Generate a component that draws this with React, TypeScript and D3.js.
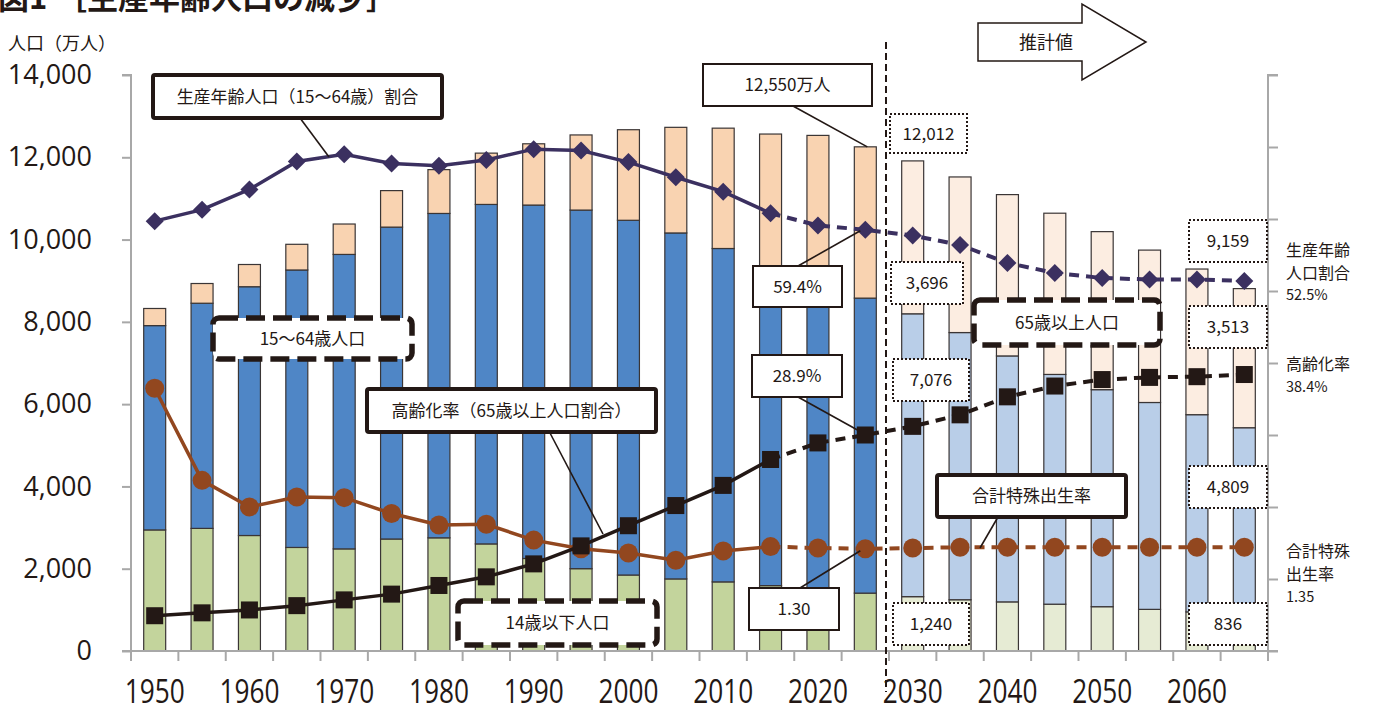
import * as d3 from "d3";
import { useEffect, useRef } from "react";

// 年次（5年ごと、2030年以降は推計値）
const years = [
  "1950", "1955", "1960", "1965", "1970", "1975", "1980", "1985",
  "1990", "1995", "2000", "2005", "2010", "2015", "2020", "2025",
  "2030", "2035", "2040", "2045", "2050", "2055", "2060", "2065",
];
// 人口（万人）
const under15 = [
  2943, 2980, 2807, 2517, 2482, 2722, 2751, 2603, 2249, 2001, 1847, 1752,
  1680, 1589, 1507, 1407, 1321, 1246, 1194, 1138, 1077, 1012, 951, 898,
];
const working = [
  4966, 5473, 6047, 6744, 7157, 7581, 7884, 8251, 8590, 8716, 8622, 8409,
  8103, 7629, 7406, 7170, 6875, 6494, 5978, 5584, 5275, 5028, 4793, 4529,
];
const elderly = [
  416, 479, 540, 624, 739, 887, 1065, 1247, 1489, 1826, 2201, 2567,
  2925, 3347, 3619, 3677, 3716, 3782, 3921, 3919, 3841, 3704, 3540, 3381,
];
// 割合（%）と合計特殊出生率
const workingRatio = [
  59.7, 61.3, 64.1, 68.0, 69.0, 67.7, 67.4, 68.2, 69.7, 69.5, 67.9, 65.8,
  63.8, 60.8, 59.1, 58.5, 57.7, 56.4, 53.9, 52.5, 51.8, 51.6, 51.6, 51.4,
];
const agingRate = [
  4.9, 5.3, 5.7, 6.3, 7.1, 7.9, 9.1, 10.3, 12.1, 14.6, 17.4, 20.2,
  23.0, 26.6, 28.9, 30.0, 31.2, 32.8, 35.3, 36.8, 37.7, 38.0, 38.1, 38.4,
];
const fertility = [
  3.65, 2.37, 2.0, 2.14, 2.13, 1.91, 1.75, 1.76, 1.54, 1.42, 1.36, 1.26,
  1.39, 1.45, 1.43, 1.42, 1.43, 1.44, 1.44, 1.44, 1.44, 1.44, 1.44, 1.44,
];
const leftTicks = [0, 2000, 4000, 6000, 8000, 10000, 12000, 14000];
const rightTicks = [0, 10, 20, 30, 40, 50, 60, 70, 80];
const xLabels = ["1950", "1960", "1970", "1980", "1990", "2000", "2010", "2020", "2030", "2040", "2050", "2060"];

const dashFrom = 13; // 2015以降は破線
const projFrom = 16; // 2030以降は推計

const JP = "'Noto Sans CJK JP', 'Noto Sans', sans-serif";

export default function App() {
  const ref = useRef<SVGSVGElement>(null);

  useEffect(() => {
    const svg = d3.select(ref.current);
    svg.selectAll("*").remove();

    const left = 131, right = 1268, top = 75, bottom = 651;

    const x = d3.scaleBand().domain(years).range([left, right]).paddingInner(0.536).paddingOuter(0.268);
    const bw = x.bandwidth();
    const cx = (i: number) => (x(years[i]) as number) + bw / 2;
    const y = d3.scaleLinear().domain([0, 14000]).range([bottom, top]);
    const yR = d3.scaleLinear().domain([0, 80]).range([bottom, top]);
    const yT = d3.scaleLinear().domain([0, 8]).range([bottom, top]);

    svg.append("rect").attr("width", 1377).attr("height", 709).attr("fill", "#fff");

    // title (cut off at top)
    svg.append("text").attr("x", -2).attr("y", 9).attr("font-family", JP).attr("font-weight", 700)
      .attr("font-size", 31).attr("fill", "#231815").text("図1");
    svg.append("text").attr("x", 56).attr("y", 9).attr("font-family", JP).attr("font-weight", 700)
      .attr("font-size", 31).attr("fill", "#231815").text("［生産年齢人口の減少］");

    svg.append("text").attr("x", 8).attr("y", 50).attr("font-family", JP).attr("font-size", 18)
      .attr("fill", "#231815").text("人口（万人）");

    // stacked bars
    const rows = years.map((yr, i) => ({ year: yr, under15: under15[i], working: working[i], elderly: elderly[i] }));
    const keys = ["under15", "working", "elderly"];
    const colors: Record<string, string[]> = {
      under15: ["#C3D49C", "#E6EBD4"],
      working: ["#4F86C6", "#B9CEE8"],
      elderly: ["#F9D3B1", "#FCEDE1"],
    };
    const stacked = d3.stack<any>().keys(keys)(rows);
    stacked.forEach((s) => {
      svg.append("g").selectAll("rect").data(s).enter().append("rect")
        .attr("x", (d: any) => x(d.data.year) as number)
        .attr("y", (d: any) => y(d[1]))
        .attr("width", bw)
        .attr("height", (d: any) => y(d[0]) - y(d[1]))
        .attr("fill", (d: any, i: number) => colors[s.key][i >= projFrom ? 1 : 0])
        .attr("stroke", "#3a3535")
        .attr("stroke-width", 1.2);
    });

    // axes
    const axisColor = "#a8a8a8";
    const yAxis = svg.append("g").attr("transform", `translate(${left},0)`)
      .call(d3.axisLeft(y).tickValues(leftTicks).tickSize(9).tickPadding(30).tickFormat(d3.format(",") as any));
    yAxis.selectAll("path,line").attr("stroke", axisColor).attr("stroke-width", 2);
    yAxis.select(".domain").attr("d", `M-9,${top}H0V${bottom}`);
    yAxis.selectAll("text").attr("font-family", "'Open Sans', sans-serif").attr("font-size", 27)
      .attr("fill", "#231815");

    const rAxis = svg.append("g").attr("transform", `translate(${right},0)`)
      .call(d3.axisRight(yR).tickValues(rightTicks).tickSize(10).tickFormat(() => ""));
    rAxis.selectAll("path,line").attr("stroke", axisColor).attr("stroke-width", 2);
    rAxis.select(".domain").attr("d", `M10,${top}H0V${bottom}`);

    svg.append("line").attr("x1", left - 9).attr("x2", right + 10).attr("y1", bottom).attr("y2", bottom)
      .attr("stroke", axisColor).attr("stroke-width", 2);
    const bounds = d3.range(years.length + 1).map((i) => left + i * x.step());
    svg.append("g").selectAll("line").data(bounds).enter().append("line")
      .attr("x1", (d) => d).attr("x2", (d) => d).attr("y1", bottom).attr("y2", bottom + 10)
      .attr("stroke", axisColor).attr("stroke-width", 2);
    svg.append("g").selectAll("text").data(xLabels).enter().append("text")
      .attr("x", (d) => (x(d) as number) + bw / 2 - 30)
      .attr("y", 703)
      .attr("font-family", "'Open Sans', sans-serif")
      .attr("font-size", 33)
      .attr("textLength", 60)
      .attr("lengthAdjust", "spacingAndGlyphs")
      .attr("fill", "#231815")
      .text((d) => d);

    // lines
    const drawSeries = (vals: number[], sc: any, color: string, dash: string, marker: string) => {
      const pts = vals.map((v, i) => [cx(i), sc(v)] as [number, number]);
      const ln = d3.line();
      svg.append("path").attr("d", ln(pts.slice(0, dashFrom + 1)) as string).attr("fill", "none")
        .attr("stroke", color).attr("stroke-width", 3.5);
      svg.append("path").attr("d", ln(pts.slice(dashFrom)) as string).attr("fill", "none")
        .attr("stroke", color).attr("stroke-width", 4).attr("stroke-dasharray", dash);
      const g = svg.append("g").selectAll("g").data(pts).enter().append("g")
        .attr("transform", (d) => `translate(${d[0]},${d[1]})`);
      if (marker === "diamond") {
        g.append("path").attr("d", "M0,-9L9,0L0,9L-9,0Z").attr("fill", color);
      } else if (marker === "square") {
        g.append("rect").attr("x", -8.5).attr("y", -8.5).attr("width", 17).attr("height", 17).attr("fill", color);
      } else {
        g.append("circle").attr("r", 9.5).attr("fill", color);
      }
    };
    drawSeries(fertility, yT, "#92471F", "10 7", "circle");
    drawSeries(agingRate, yR, "#231815", "10 7", "square");
    drawSeries(workingRatio, yR, "#3B3060", "10 7", "diamond");

    // projection divider
    svg.append("line").attr("x1", 886).attr("x2", 886).attr("y1", 42).attr("y2", 692)
      .attr("stroke", "#231815").attr("stroke-width", 2).attr("stroke-dasharray", "7 4");

    // arrow
    svg.append("polygon")
      .attr("points", "978,23 1082,23 1082,4 1146,42 1082,80 1082,61 978,61")
      .attr("fill", "#fff").attr("stroke", "#231815").attr("stroke-width", 1.5);
    svg.append("text").attr("x", 1046).attr("y", 49).attr("text-anchor", "middle").attr("font-family", JP)
      .attr("font-size", 18).attr("fill", "#231815").text("推計値");

    // leader lines
    const leader = (x1: number, y1: number, x2: number, y2: number) =>
      svg.append("line").attr("x1", x1).attr("y1", y1).attr("x2", x2).attr("y2", y2)
        .attr("stroke", "#231815").attr("stroke-width", 1.6);
    leader(300, 118, 329, 157);
    leader(550, 433, 603, 534);
    leader(793, 106, cx(15) + 2, y(under15[15] + working[15] + elderly[15]));
    leader(798, 266, cx(15) - 5, yR(workingRatio[15]) + 1);
    leader(798, 397, cx(15) - 6, yR(agingRate[15]) - 4);
    leader(800, 588, cx(15) - 5, yT(fertility[15]) + 2);
    leader(998, 517, 980, 548);

    // boxes
    const box = (x0: number, y0: number, x1: number, y1: number, kind: string, label: string, fs: number) => {
      const r = svg.append("rect").attr("x", x0).attr("y", y0).attr("width", x1 - x0).attr("height", y1 - y0)
        .attr("fill", "#fff").attr("stroke", "#231815");
      if (kind === "thick") r.attr("stroke-width", 4).attr("rx", 2);
      if (kind === "thin") r.attr("stroke-width", 2);
      if (kind === "dashed") r.attr("stroke-width", 5.5).attr("stroke-dasharray", "19 8").attr("rx", 6);
      if (kind === "dotted") r.attr("stroke-width", 2).attr("stroke-dasharray", "2 2");
      svg.append("text").attr("x", (x0 + x1) / 2).attr("y", (y0 + y1) / 2 + fs * 0.36)
        .attr("text-anchor", "middle").attr("font-family", JP).attr("font-size", fs)
        .attr("fill", "#231815").text(label);
    };
    box(153, 75, 442, 118, "thick", "生産年齢人口（15〜64歳）割合", 17);
    box(213, 318, 412, 359, "dashed", "15〜64歳人口", 17);
    box(367, 389, 656, 432, "thick", "高齢化率（65歳以上人口割合）", 17);
    box(458, 601, 657, 645, "dashed", "14歳以下人口", 17);
    box(703, 64, 872, 106, "thin", "12,550万人", 17);
    box(753, 266, 842, 307, "thin", "59.4%", 17);
    box(752, 355, 842, 397, "thin", "28.9%", 17);
    box(749, 588, 839, 630, "thin", "1.30", 17);
    box(937, 475, 1126, 517, "thick", "合計特殊出生率", 17);
    box(974, 300, 1160, 345, "dashed", "65歳以上人口", 17);
    box(890, 114, 967, 153, "dotted", "12,012", 17);
    box(891, 262, 963, 304, "dotted", "3,696", 17);
    box(893, 359, 969, 401, "dotted", "7,076", 17);
    box(893, 603, 969, 645, "dotted", "1,240", 17);
    box(1189, 220, 1267, 262, "dotted", "9,159", 17);
    box(1189, 306, 1267, 348, "dotted", "3,513", 17);
    box(1189, 466, 1267, 508, "dotted", "4,809", 17);
    box(1189, 603, 1267, 645, "dotted", "836", 17);

    // right side labels
    const side = [
      ["生産年齢", 256, 16], ["人口割合", 279, 16], ["52.5%", 300, 14.5],
      ["高齢化率", 370, 16], ["38.4%", 392, 14.5],
      ["合計特殊", 557, 16], ["出生率", 580, 16], ["1.35", 602, 14.5],
    ];
    svg.append("g").selectAll("text").data(side).enter().append("text")
      .attr("x", 1286).attr("y", (d: any) => d[1]).attr("font-family", JP)
      .attr("font-size", (d: any) => d[2]).attr("fill", "#231815").text((d: any) => d[0]);
  }, []);

  return (
    <svg ref={ref} width={1377} height={709} style={{ position: "absolute", left: 0, top: 0 }} />
  );
}
